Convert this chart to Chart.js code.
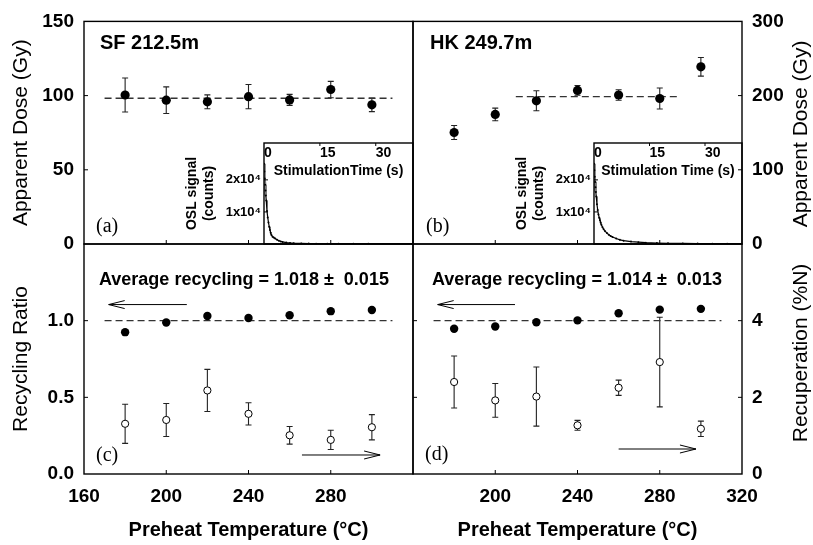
<!DOCTYPE html>
<html>
<head>
<meta charset="utf-8">
<script src="https://cdn.jsdelivr.net/npm/chart.js@4.4.1/dist/chart.umd.min.js"></script>
<style>
  html, body { margin: 0; padding: 0; background: #fff; }
  #wrap { position: relative; width: 813px; height: 545px; background: #fff; }
  #wrap canvas { position: absolute; left: 0; top: 0; }
</style>
</head>
<body>
<div id="wrap">
  <canvas id="panelA" width="813" height="545"></canvas>
  <canvas id="panelB" width="813" height="545"></canvas>
  <canvas id="panelC" width="813" height="545"></canvas>
  <canvas id="panelD" width="813" height="545"></canvas>
  <canvas id="insetA" width="813" height="545"></canvas>
  <canvas id="insetB" width="813" height="545"></canvas>
</div>
<script>
// Preheat temperatures (°C), same for every panel
const temps = [180, 200, 220, 240, 260, 280, 300];

// (a) SF 212.5m: apparent dose (Gy) and 1 sigma errors
const doseSF = [100.4, 96.9, 95.8, 99.3, 97.1, 104.1, 93.8];
const doseErrSF = [11.5, 9.0, 4.7, 8.2, 3.7, 5.5, 4.6];
const plateauSF = [170, 310];
const plateauDoseSF = 98.2;

// (b) HK 249.7m
const doseHK = [150.3, 174.6, 193.0, 207.0, 200.8, 196.1, 238.8];
const doseErrHK = [9.5, 8.5, 13.5, 6.6, 7.0, 14.2, 12.5];
const plateauHK = [210, 290];
const plateauDoseHK = 198.7;

// (c) SF recycling ratio (filled) and recuperation %N (open)
const recycleSF = [0.925, 0.988, 1.030, 1.017, 1.035, 1.062, 1.070];
const recupSF = [1.31, 1.41, 2.18, 1.57, 1.01, 0.89, 1.22];
const recupErrSF = [0.51, 0.43, 0.55, 0.29, 0.23, 0.25, 0.33];

// (d) HK recycling ratio and recuperation
const recycleHK = [0.947, 0.962, 0.990, 1.002, 1.048, 1.072, 1.077];
const recupHK = [2.40, 1.92, 2.02, 1.27, 2.25, 2.92, 1.18];
const recupErrHK = [0.68, 0.44, 0.77, 0.13, 0.20, 1.17, 0.20];
const unityLine = [170, 310];

// Insets: OSL decay curves (stimulation time s, counts)
const oslTime = [0, 0.1, 0.2, 0.3, 0.4, 0.5, 0.6, 0.8, 1.0, 1.2, 1.4, 1.6, 1.8, 2.0, 2.3, 2.6, 3.0, 3.5,
                 4.0, 4.5, 5, 6, 7, 8, 10, 12, 14, 17, 20, 24, 28, 32, 36, 40];
const oslSF = [25000, 22600, 20400, 18500, 16700, 15100, 13600, 10300, 8300, 6700, 5400, 4400, 3500, 2800,
               2300, 2000, 1700, 1300, 1000, 800, 650, 450, 330, 250, 170, 120, 100, 80, 60, 48, 42, 38, 34, 30];
const oslHK = [25000, 23000, 21000, 19300, 17700, 16200, 14800, 12400, 10600, 9200, 8200, 7400, 6700, 6000,
               5200, 4600, 4000, 3400, 2900, 2500, 2200, 1700, 1300, 1050, 750, 560, 420, 300, 230, 170, 130, 110, 95, 85];

// Tick values and labels
const tempTicks = [160, 200, 240, 280, 320];
const tempLabelsLeft = [160, 200, 240, 280];
const tempLabelsRight = [200, 240, 280, 320];
const doseTicksSF = [0, 50, 100, 150];
const doseTicksHK = [0, 100, 200, 300];
const ratioTicks = [0, 0.5, 1.0, 1.5];
const ratioLabels = [0, 0.5, 1.0];
const recupTicks = [0, 2, 4, 6];
const recupLabels = [0, 2, 4];
const oslTimeTicks = [0, 15, 30];
const oslCountTicks = [10000, 20000];
const oslCountLabels = {10000: '1x10\u2074', 20000: '2x10\u2074'};

const SANS = "'Liberation Sans', Arial, Helvetica, sans-serif";
const SERIF = "'Liberation Serif', 'Times New Roman', serif";
Chart.defaults.font.family = SANS;
Chart.defaults.color = '#000';

function pts(xs, ys) { return xs.map((x, i) => ({x: x, y: ys[i]})); }

// box round the plot area plus short inward tick marks
const framePlugin = {
  id: 'frame',
  afterDraw(chart, args, opts) {
    const ctx = chart.ctx, a = chart.chartArea;
    ctx.save();
    ctx.strokeStyle = '#000';
    ctx.lineWidth = 1.4;
    ctx.strokeRect(a.left, a.top, a.right - a.left, a.bottom - a.top);
    ctx.lineWidth = 1;
    (opts.marks || []).forEach(m => {
      const s = chart.scales[m.scale];
      m.values.forEach(v => {
        if (v <= s.min || v >= s.max) return;
        const p = s.getPixelForValue(v);
        ctx.beginPath();
        if (m.side === 'bottom') { ctx.moveTo(p, a.bottom); ctx.lineTo(p, a.bottom - 4); }
        if (m.side === 'top') { ctx.moveTo(p, a.top); ctx.lineTo(p, a.top + 3); }
        if (m.side === 'left') { ctx.moveTo(a.left, p); ctx.lineTo(a.left + 4, p); }
        if (m.side === 'right') { ctx.moveTo(a.right, p); ctx.lineTo(a.right - 4, p); }
        ctx.stroke();
      });
    });
    ctx.restore();
  }
};

// vertical error bars with caps, read from dataset.errors
const errorBarPlugin = {
  id: 'errorBars',
  beforeDatasetsDraw(chart) {
    const ctx = chart.ctx;
    chart.data.datasets.forEach((ds, i) => {
      if (!ds.errors) return;
      const meta = chart.getDatasetMeta(i);
      const ys = chart.scales[meta.yAxisID];
      ctx.save();
      ctx.strokeStyle = '#222';
      ctx.lineWidth = 1.1;
      meta.data.forEach((pt, j) => {
        const v = ds.data[j].y, e = ds.errors[j];
        const y0 = ys.getPixelForValue(v - e), y1 = ys.getPixelForValue(v + e);
        ctx.beginPath();
        ctx.moveTo(pt.x, y0); ctx.lineTo(pt.x, y1);
        ctx.moveTo(pt.x - 3, y0); ctx.lineTo(pt.x + 3, y0);
        ctx.moveTo(pt.x - 3, y1); ctx.lineTo(pt.x + 3, y1);
        ctx.stroke();
      });
      ctx.restore();
    });
  }
};

// open-headed arrows telling which axis each series uses
const arrowPlugin = {
  id: 'arrows',
  afterDatasetsDraw(chart, args, opts) {
    const ctx = chart.ctx;
    (opts.list || []).forEach(ar => {
      const xs = chart.scales.x, ys = chart.scales[ar.axis];
      const x0 = xs.getPixelForValue(ar.from), x1 = xs.getPixelForValue(ar.to);
      const y = ys.getPixelForValue(ar.y);
      const dir = Math.sign(x1 - x0);
      ctx.save();
      ctx.strokeStyle = '#000';
      ctx.lineWidth = 1;
      ctx.beginPath();
      ctx.moveTo(x0, y); ctx.lineTo(x1, y);
      ctx.moveTo(x1 - dir * 16, y - 4); ctx.lineTo(x1, y); ctx.lineTo(x1 - dir * 16, y + 4);
      ctx.stroke();
      ctx.restore();
    });
  }
};

// free text: panel names, letters, averages, rotated right axis titles
const notesPlugin = {
  id: 'notes',
  afterDraw(chart, args, opts) {
    const ctx = chart.ctx;
    (opts.list || []).forEach(n => {
      ctx.save();
      ctx.font = n.font;
      ctx.fillStyle = '#000';
      ctx.textAlign = n.align || 'left';
      ctx.textBaseline = n.baseline || 'alphabetic';
      ctx.translate(n.x, n.y);
      if (n.rotate) ctx.rotate(n.rotate);
      ctx.fillText(n.text, 0, 0);
      ctx.restore();
    });
  }
};

const plugins = [errorBarPlugin, arrowPlugin, framePlugin, notesPlugin];

function tempAxis(labels, show) {
  return {
    type: 'linear', min: 160, max: 320, position: 'bottom',
    display: show,
    afterBuildTicks: s => { s.ticks = tempTicks.map(v => ({value: v})); },
    afterFit: s => { s.height = show ? 71 : 0; },
    grid: {display: false, drawTicks: false},
    border: {display: false},
    ticks: {
      font: {size: 19, weight: 'bold'}, padding: 11, color: '#000',
      maxRotation: 0, autoSkip: false,
      callback: v => labels.includes(v) ? String(v) : ''
    },
    title: {
      display: show, text: 'Preheat Temperature (\u00B0C)', color: '#000',
      font: {size: 20, weight: 'bold'}, padding: {top: 0, bottom: 3}
    }
  };
}

function valueAxis(opt) {
  return {
    type: 'linear', min: opt.min, max: opt.max, position: opt.position,
    display: opt.show !== false,
    afterBuildTicks: s => { s.ticks = opt.ticks.map(v => ({value: v})); },
    afterFit: s => { s.width = opt.show === false ? 0 : opt.width; },
    grid: {display: false, drawTicks: false},
    border: {display: false},
    ticks: {
      font: {size: 19, weight: 'bold'}, padding: 10, color: '#000', autoSkip: false,
      callback: v => opt.labels.includes(v) ? (opt.digits ? v.toFixed(opt.digits) : String(v)) : ''
    },
    title: {
      display: !!opt.title, text: opt.title || '', color: '#000',
      font: {size: 21, weight: 'normal'}, padding: {top: 9, bottom: 0}
    }
  };
}

function baseOptions(padding, scales, extra) {
  return {
    responsive: false, animation: false, devicePixelRatio: 1, events: [],
    layout: {padding: padding},
    scales: scales,
    plugins: Object.assign({legend: {display: false}, tooltip: {enabled: false}}, extra)
  };
}

function dosePoints(xs, ys, errs) {
  return {data: pts(xs, ys), errors: errs, pointRadius: 4.6, pointBackgroundColor: '#000',
          pointBorderWidth: 0, showLine: false};
}
function dashed(xs, y, axis) {
  return {data: pts(xs, [y, y]), yAxisID: axis, showLine: true, pointRadius: 0,
          borderColor: '#333', borderWidth: 1.3, borderDash: [7, 4]};
}

// (a)
new Chart(document.getElementById('panelA'), {
  type: 'scatter',
  data: {datasets: [dosePoints(temps, doseSF, doseErrSF), dashed(plateauSF, plateauDoseSF, 'y')]},
  options: baseOptions({left: 0, top: 15, right: 400, bottom: 301}, {
    x: tempAxis(tempLabelsLeft, false),
    y: valueAxis({min: 0, max: 150, position: 'left', ticks: doseTicksSF, labels: doseTicksSF,
                  width: 84, title: 'Apparent Dose (Gy)'})
  }, {
    frame: {marks: [{scale: 'x', side: 'bottom', values: tempTicks}, {scale: 'y', side: 'left', values: doseTicksSF}]},
    notes: {list: [
      {text: 'SF 212.5m', x: 100, y: 49, font: 'bold 20px ' + SANS},
      {text: '(a)', x: 96, y: 232, font: '20px ' + SERIF}
    ]}
  }),
  plugins: plugins
});

// (b)
new Chart(document.getElementById('panelB'), {
  type: 'scatter',
  data: {datasets: [dosePoints(temps, doseHK, doseErrHK), dashed(plateauHK, plateauDoseHK, 'y')]},
  options: baseOptions({left: 413, top: 15, right: 0, bottom: 301}, {
    x: tempAxis(tempLabelsRight, false),
    y: valueAxis({min: 0, max: 300, position: 'right', ticks: doseTicksHK, labels: doseTicksHK, width: 71})
  }, {
    frame: {marks: [{scale: 'x', side: 'bottom', values: tempTicks}, {scale: 'y', side: 'right', values: doseTicksHK}]},
    notes: {list: [
      {text: 'HK 249.7m', x: 430, y: 49, font: 'bold 20px ' + SANS},
      {text: '(b)', x: 426, y: 232, font: '20px ' + SERIF},
      {text: 'Apparent Dose (Gy)', x: 801, y: 134, font: '21px ' + SANS, align: 'center', baseline: 'middle', rotate: -Math.PI / 2}
    ]}
  }),
  plugins: plugins
});

function recycleSets(ratio, recup, recupErr) {
  return [
    {data: pts(temps, ratio), yAxisID: 'y', pointRadius: 4.2, pointBackgroundColor: '#000', pointBorderWidth: 0, showLine: false},
    {data: pts(temps, recup), yAxisID: 'y2', errors: recupErr, pointRadius: 3.6, pointBackgroundColor: '#fff',
     pointBorderColor: '#000', pointBorderWidth: 1, showLine: false},
    dashed(unityLine, 1.0, 'y')
  ];
}

// (c)
new Chart(document.getElementById('panelC'), {
  type: 'scatter',
  data: {datasets: recycleSets(recycleSF, recupSF, recupErrSF)},
  options: baseOptions({left: 0, top: 244, right: 400, bottom: 0}, {
    x: tempAxis(tempLabelsLeft, true),
    y: valueAxis({min: 0, max: 1.5, position: 'left', ticks: ratioTicks, labels: ratioLabels, digits: 1,
                  width: 84, title: 'Recycling Ratio'}),
    y2: valueAxis({min: 0, max: 6, position: 'right', ticks: recupTicks, labels: recupLabels, show: false})
  }, {
    frame: {marks: [{scale: 'x', side: 'bottom', values: tempTicks}, {scale: 'y', side: 'left', values: ratioTicks}]},
    arrows: {list: [{axis: 'y', from: 210, to: 172, y: 1.105}, {axis: 'y', from: 266, to: 304, y: 0.124}]},
    notes: {list: [
      {text: 'Average recycling = 1.018 \u00B1  0.015', x: 99, y: 285, font: 'bold 18px ' + SANS},
      {text: '(c)', x: 96, y: 461, font: '20px ' + SERIF}
    ]}
  }),
  plugins: plugins
});

// (d)
new Chart(document.getElementById('panelD'), {
  type: 'scatter',
  data: {datasets: recycleSets(recycleHK, recupHK, recupErrHK)},
  options: baseOptions({left: 413, top: 244, right: 0, bottom: 0}, {
    x: tempAxis(tempLabelsRight, true),
    y: valueAxis({min: 0, max: 1.5, position: 'left', ticks: ratioTicks, labels: ratioLabels, show: false}),
    y2: valueAxis({min: 0, max: 6, position: 'right', ticks: recupTicks, labels: recupLabels, width: 71})
  }, {
    frame: {marks: [{scale: 'x', side: 'bottom', values: tempTicks}, {scale: 'y', side: 'left', values: ratioTicks},
                    {scale: 'y2', side: 'right', values: recupTicks}]},
    arrows: {list: [{axis: 'y', from: 209.6, to: 172, y: 1.105}, {axis: 'y', from: 260, to: 297.6, y: 0.163}]},
    notes: {list: [
      {text: 'Average recycling = 1.014 \u00B1  0.013', x: 432, y: 285, font: 'bold 18px ' + SANS},
      {text: '(d)', x: 425, y: 460, font: '20px ' + SERIF},
      {text: 'Recuperation (%N)', x: 801, y: 353, font: '21px ' + SANS, align: 'center', baseline: 'middle', rotate: -Math.PI / 2}
    ]}
  }),
  plugins: plugins
});

// insets with OSL decay curves
function insetChart(id, counts, padding, timeTitle) {
  new Chart(document.getElementById(id), {
    type: 'scatter',
    data: {datasets: [{
      data: pts(oslTime, counts), showLine: true, borderColor: '#000', borderWidth: 1.2,
      pointRadius: 1, pointBackgroundColor: '#000', pointBorderWidth: 0,
      segment: {borderColor: c => c.p0DataIndex < 5 ? '#777' : '#000', borderWidth: c => c.p0DataIndex < 5 ? 2.5 : 1.2}
    }]},
    options: baseOptions(padding, {
      x: {
        type: 'linear', min: 0, max: 40, position: 'top',
        afterBuildTicks: s => { s.ticks = oslTimeTicks.map(v => ({value: v})); },
        afterFit: s => { s.height = 0; },
        grid: {display: false, drawTicks: false}, border: {display: false},
        ticks: {font: {size: 14, weight: 'bold'}, mirror: true, padding: 2, align: 'start',
                maxRotation: 0, autoSkip: false, color: '#000'},
        title: {display: true, text: timeTitle, color: '#000', font: {size: 14, weight: 'bold'}, padding: {top: 20, bottom: 0}}
      },
      y: {
        type: 'linear', min: 0, max: 31500, position: 'left',
        afterBuildTicks: s => { s.ticks = oslCountTicks.map(v => ({value: v})); },
        afterFit: s => { s.width = 84; },
        grid: {display: false, drawTicks: false}, border: {display: false},
        ticks: {font: {size: 13, weight: 'bold'}, padding: 3, autoSkip: false, color: '#000',
                callback: v => oslCountLabels[v] || ''},
        title: {display: true, text: ['OSL signal', '(counts)'], color: '#000',
                font: {size: 14, weight: 'bold'}, padding: {top: 4, bottom: 0}}
      }
    }, {
      frame: {marks: [{scale: 'x', side: 'top', values: oslTimeTicks}, {scale: 'y', side: 'left', values: oslCountTicks}]}
    }),
    plugins: [framePlugin]
  });
}
insetChart('insetA', oslSF, {left: 180, top: 143, right: 400, bottom: 301}, 'StimulationTime (s)');
insetChart('insetB', oslHK, {left: 510, top: 143, right: 71, bottom: 301}, 'Stimulation Time (s)');
</script>
</body>
</html>
